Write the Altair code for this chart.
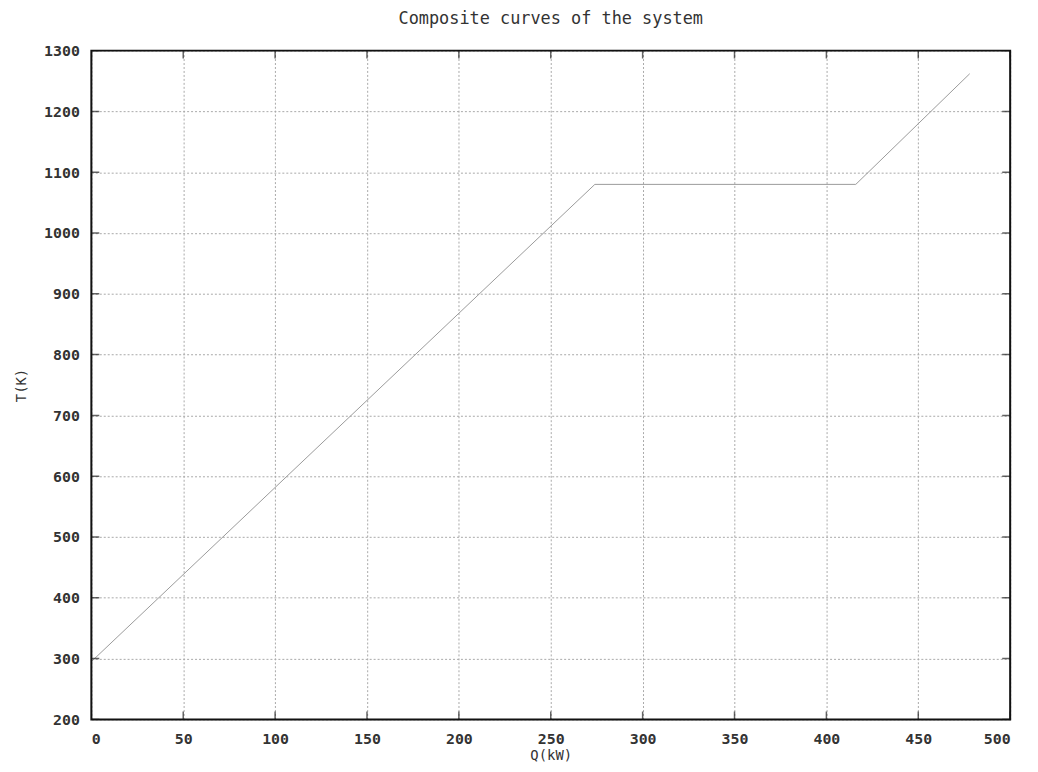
import altair as alt
import pandas as pd

# Composite curve points
q_kw = [0, 274, 416, 478]
t_k = [295, 1080, 1080, 1262]

x_ticks = [0, 50, 100, 150, 200, 250, 300, 350, 400, 450, 500]
y_ticks = [200, 300, 400, 500, 600, 700, 800, 900, 1000, 1100, 1200, 1300]

df = pd.DataFrame({"Q": q_kw, "T": t_k})
xt = pd.DataFrame({"Q": x_ticks})
yt = pd.DataFrame({"T": y_ticks})
frame_df = pd.DataFrame({"x0": [0], "x1": [500], "y0": [200], "y1": [1300]})

FONT = "DejaVu Sans Mono"
xscale = alt.Scale(domain=[0, 500], nice=False, zero=False)
yscale = alt.Scale(domain=[200, 1300], nice=False, zero=False)

line = alt.Chart(df).mark_line(color="#9a9a9a", strokeWidth=1).encode(
    x=alt.X("Q:Q", scale=xscale,
            axis=alt.Axis(values=x_ticks, format="d", title="Q(kW)", grid=True,
                          gridColor="#a8a8a8", gridDash=[2, 2], gridWidth=1,
                          ticks=False, domain=False, labelPadding=12,
                          labelFont=FONT, labelFontSize=15, labelColor="#333",
                          labelFontWeight="bold",
                          titleFont=FONT, titleFontSize=14, titleFontWeight="normal",
                          titleColor="#333", titlePadding=2)),
    y=alt.Y("T:Q", scale=yscale,
            axis=alt.Axis(values=y_ticks, format="d", title="T(K)", grid=True,
                          gridColor="#a8a8a8", gridDash=[2, 2], gridWidth=1,
                          ticks=False, domain=False, labelPadding=12,
                          labelFont=FONT, labelFontSize=15, labelColor="#333",
                          labelFontWeight="bold",
                          titleFont=FONT, titleFontSize=14, titleFontWeight="normal",
                          titleColor="#333", titlePadding=15)),
)

frame = alt.Chart(frame_df).mark_rect(fillOpacity=0, stroke="#111", strokeWidth=2).encode(
    x=alt.X("x0:Q", scale=xscale), x2="x1:Q",
    y=alt.Y("y0:Q", scale=yscale), y2="y1:Q",
)

tick_style = dict(color="#222", thickness=1.5, size=16, clip=True)
xb = alt.Chart(xt).mark_tick(orient="vertical", **tick_style).encode(
    x=alt.X("Q:Q", scale=xscale), y=alt.YDatum(200, scale=yscale))
xtp = alt.Chart(xt).mark_tick(orient="vertical", **tick_style).encode(
    x=alt.X("Q:Q", scale=xscale), y=alt.YDatum(1300, scale=yscale))
yl = alt.Chart(yt).mark_tick(orient="horizontal", **tick_style).encode(
    y=alt.Y("T:Q", scale=yscale), x=alt.XDatum(0, scale=xscale))
yr = alt.Chart(yt).mark_tick(orient="horizontal", **tick_style).encode(
    y=alt.Y("T:Q", scale=yscale), x=alt.XDatum(500, scale=xscale))

chart = alt.layer(line, xb, xtp, yl, yr, frame).properties(
    width=926,
    height=674,
    title=alt.TitleParams("Composite curves of the system", font=FONT,
                          fontSize=17, fontWeight="normal", color="#333",
                          offset=16),
    autosize=alt.AutoSizeParams(type="none"),
    padding={"left": 84, "top": 40, "right": 20, "bottom": 42},
).configure_view(strokeWidth=0).configure(background="white")

chart.save("out.html", embed_options={"renderer": "svg", "actions": False})
